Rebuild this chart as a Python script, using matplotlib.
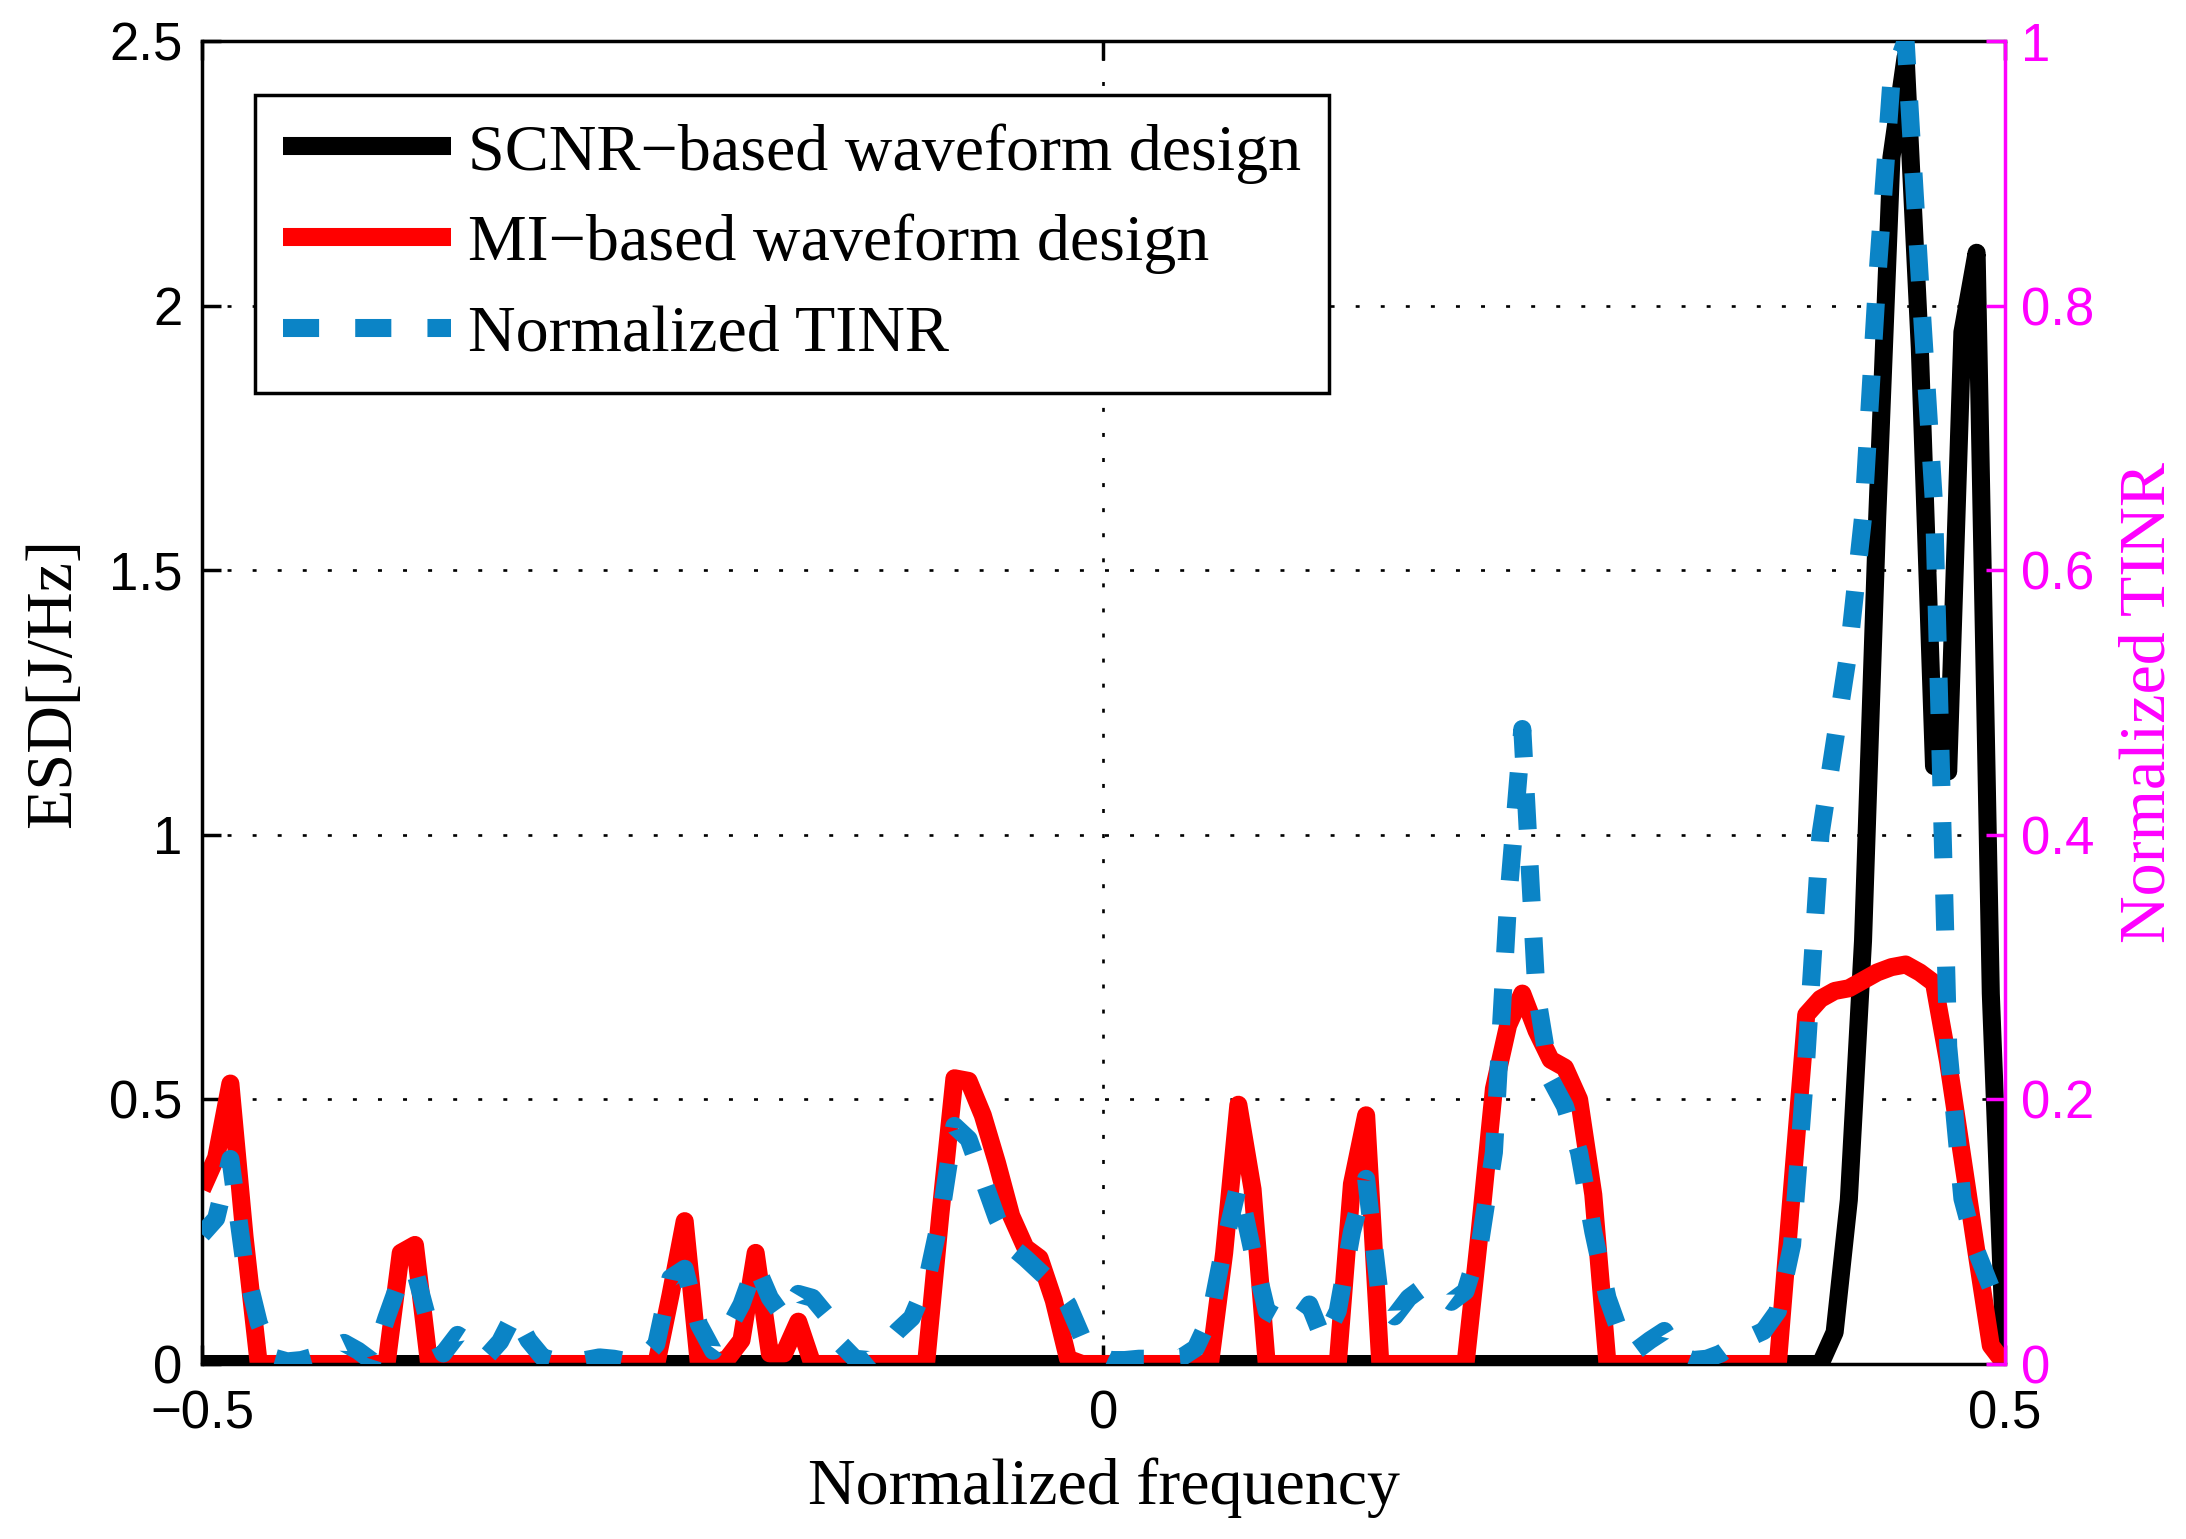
import numpy as np
import matplotlib
matplotlib.use("Agg")
import matplotlib.pyplot as plt

# ---------------- data ----------------
freq = np.linspace(-0.5, 0.5, 128)

scnr_esd = [
    0, 0, 0, 0, 0, 0, 0, 0, 0, 0,
    0, 0, 0, 0, 0, 0, 0, 0, 0, 0,
    0, 0, 0, 0, 0, 0, 0, 0, 0, 0,
    0, 0, 0, 0, 0, 0, 0, 0, 0, 0,
    0, 0, 0, 0, 0, 0, 0, 0, 0, 0,
    0, 0, 0, 0, 0, 0, 0, 0, 0, 0,
    0, 0, 0, 0, 0, 0, 0, 0, 0, 0,
    0, 0, 0, 0, 0, 0, 0, 0, 0, 0,
    0, 0, 0, 0, 0, 0, 0, 0, 0, 0,
    0, 0, 0, 0, 0, 0, 0, 0, 0, 0,
    0, 0, 0, 0, 0, 0, 0, 0, 0, 0,
    0, 0, 0, 0, 0.0, 0.06, 0.31, 0.8, 1.6, 2.28,
    2.47, 1.92, 1.13, 1.12, 1.95, 2.1, 0.7, 0.0,
]

mi_esd = [
    0.33, 0.39, 0.53, 0.24, 0, 0, 0, 0, 0, 0,
    0, 0, 0, 0, 0.21, 0.225, 0, 0, 0, 0,
    0, 0, 0, 0, 0, 0, 0, 0, 0, 0,
    0, 0, 0, 0.13, 0.27, 0, 0, 0.01, 0.045, 0.21,
    0.02, 0.02, 0.08, 0, 0, 0, 0, 0, 0, 0,
    0, 0, 0.28, 0.54, 0.535, 0.47, 0.38, 0.28, 0.22, 0.20,
    0.12, 0.01, 0, 0, 0, 0, 0, 0, 0, 0,
    0, 0, 0.21, 0.49, 0.33, 0, 0, 0, 0, 0,
    0, 0.34, 0.47, 0, 0, 0, 0, 0, 0, 0,
    0.25, 0.52, 0.64, 0.70, 0.63, 0.575, 0.56, 0.50, 0.32, 0,
    0, 0, 0, 0, 0, 0, 0, 0, 0, 0,
    0, 0, 0.33, 0.66, 0.69, 0.705, 0.71, 0.725, 0.74, 0.75,
    0.755, 0.74, 0.72, 0.57, 0.39, 0.21, 0.035, 0,
]

tinr_norm = [
    0.098, 0.11, 0.155, 0.075, 0.031, 0.005, 0.002, 0.003, 0.006, 0.011,
    0.016, 0.01, 0.002, 0.035, 0.065, 0.07, 0.03, 0.008, 0.022, 0.015,
    0.005, 0.017, 0.038, 0.018, 0.005, 0.002, 0.002, 0.003, 0.005, 0.004,
    0.002, 0.003, 0.015, 0.065, 0.072, 0.03, 0.01, 0.025, 0.045, 0.075,
    0.05, 0.035, 0.053, 0.05, 0.037, 0.015, 0.004, 0.003, 0.012, 0.025,
    0.035, 0.06, 0.11, 0.18, 0.17, 0.14, 0.11, 0.089, 0.08, 0.07,
    0.06, 0.045, 0.02, 0.008, 0.003, 0.003, 0.004, 0.004, 0.004, 0.005,
    0.012, 0.035, 0.09, 0.135, 0.085, 0.04, 0.034, 0.03, 0.045, 0.018,
    0.04, 0.1, 0.14, 0.048, 0.036, 0.05, 0.058, 0.055, 0.047, 0.055,
    0.09, 0.16, 0.35, 0.48, 0.28, 0.215, 0.195, 0.16, 0.1, 0.05,
    0.02, 0.01, 0.018, 0.025, 0.007, 0.003, 0.004, 0.008, 0.016, 0.02,
    0.025, 0.04, 0.09, 0.23, 0.4, 0.47, 0.54, 0.64, 0.82, 0.97,
    1.0, 0.82, 0.65, 0.24, 0.125, 0.085, 0.058, 0.042,
]

series_labels = ["SCNR\u2212based waveform design",
                 "MI\u2212based waveform design",
                 "Normalized TINR"]

xticks = [-0.5, 0, 0.5]
xticklabels = ["\u22120.5", "0", "0.5"]
yticks_left = [0, 0.5, 1, 1.5, 2, 2.5]
yticklabels_left = ["0", "0.5", "1", "1.5", "2", "2.5"]
yticks_right = [0, 0.2, 0.4, 0.6, 0.8, 1]
yticklabels_right = ["0", "0.2", "0.4", "0.6", "0.8", "1"]

# ---------------- style ----------------
plt.rcParams['font.family'] = ['Liberation Sans', 'DejaVu Sans']
SERIF = ['Liberation Serif', 'DejaVu Serif']
BLUE = '#0B84C6'
MAGENTA = '#FF00FF'
LW = 13
TICK_FS = 38
LABEL_FS = 47.5

fig = plt.figure(figsize=(21.86, 15.39), dpi=100)
ax = fig.add_axes([0.0924, 0.1137, 0.8248, 0.8596])
ax2 = ax.twinx()

l1, = ax.plot(freq, scnr_esd, color='k', lw=LW, solid_joinstyle='round',
              solid_capstyle='butt', label=series_labels[0])
l2, = ax.plot(freq, mi_esd, color='#FF0000', lw=LW, solid_joinstyle='round',
              solid_capstyle='butt', label=series_labels[1])
l3, = ax2.plot(freq, tinr_norm, color=BLUE, lw=LW, linestyle=(0, (2, 2)),
               dash_capstyle='butt', dash_joinstyle='round',
               label=series_labels[2])

ax.set_xlim(-0.5, 0.5)
ax.set_ylim(0, 2.5)
ax2.set_ylim(0, 1)

ax.set_xticks(xticks)
ax.set_xticklabels(xticklabels)
ax.set_yticks(yticks_left)
ax.set_yticklabels(yticklabels_left)
ax2.set_yticks(yticks_right)
ax2.set_yticklabels(yticklabels_right)

ax.grid(True, color='k', linestyle=(0, (1.5, 8)), linewidth=1.9)

for s in ['left', 'top', 'bottom']:
    ax.spines[s].set_linewidth(2.5)
    ax.spines[s].set_color('k')
ax.spines['right'].set_visible(False)
for s in ['left', 'top', 'bottom']:
    ax2.spines[s].set_visible(False)
ax2.spines['right'].set_color(MAGENTA)
ax2.spines['right'].set_linewidth(2.5)

ax.tick_params(axis='x', direction='in', length=14, width=2.5,
               labelsize=TICK_FS, pad=18, top=True, bottom=True)
ax.tick_params(axis='y', direction='in', length=14, width=2.5,
               labelsize=TICK_FS, pad=14, left=True, right=False)
ax2.tick_params(axis='y', direction='in', length=14, width=2.5,
                labelsize=TICK_FS, pad=11.5, colors=MAGENTA)

ax.set_xlabel("Normalized frequency", fontsize=LABEL_FS, family=SERIF)
ax.xaxis.set_label_coords(0.5, -0.0705)
ax.set_ylabel("ESD[J/Hz]", fontsize=LABEL_FS, family=SERIF)
ax.yaxis.set_label_coords(-0.0654, 0.515)
ax2.set_ylabel("Normalized TINR", fontsize=LABEL_FS, family=SERIF,
               color=MAGENTA, rotation=90)
ax2.yaxis.set_label_coords(1.063, 0.5)

leg = ax2.legend([l1, l2, l3], series_labels, loc='upper left',
                 bbox_to_anchor=(0.0294, 0.959), borderaxespad=0,
                 prop={'family': SERIF, 'size': LABEL_FS},
                 handlelength=2.55, handletextpad=0.26, borderpad=0.42,
                 labelspacing=0.46, frameon=True, fancybox=False,
                 edgecolor='k', framealpha=1, facecolor='white')
leg.get_frame().set_linewidth(2.5)

fig.savefig("out.png", dpi=100, facecolor='white')
